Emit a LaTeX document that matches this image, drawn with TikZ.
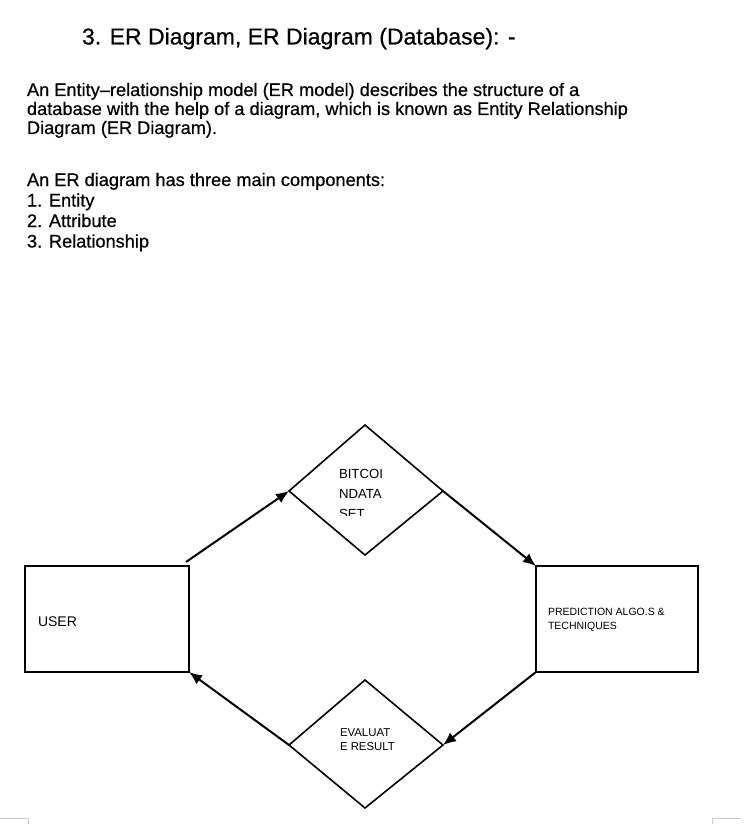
\documentclass[tikz,border=0pt]{standalone}
\usepackage{fontspec}
\setmainfont{Liberation Sans}
\newfontfamily\bodyfont[FakeBold=0.6]{Liberation Sans}
\usetikzlibrary{arrows.meta}
\begin{document}
\begin{tikzpicture}[x=1pt,y=-1pt,
  txt/.style={anchor=base west,inner sep=0pt,outer sep=0pt},
  body/.style={txt,font=\bodyfont\fontsize{18.2}{20}\selectfont},
  outline/.style={draw=black,line width=1.6pt},
  conn/.style={draw=black,line width=2pt,-{Latex[length=13pt,width=11pt]}},
  lbl/.style={txt,font=\fontsize{12}{14}\selectfont}]
\useasboundingbox (0,0) rectangle (750,824);
% text block
\node[txt,font=\bodyfont\fontsize{23}{28}\selectfont] (title) at (82,44.5) {3. ER Diagram, ER Diagram (Database): -};
\node[body] (p1) at (27,96) {An Entity–relationship model (ER model) describes the structure of a};
\node[body] (p2) at (27,115) {database with the help of a diagram, which is known as Entity Relationship};
\node[body] (p3) at (27,134) {Diagram (ER Diagram).};
\node[body] (q1) at (27,186) {An ER diagram has three main components:};
\node[body] (q2) at (27,206.5) {1. Entity};
\node[body] (q3) at (27,227) {2. Attribute};
\node[body] (q4) at (27,247.5) {3. Relationship};
% entities
\draw[outline] (25,566) rectangle (189,672);
\coordinate (uTR) at (186,562);
\coordinate (uBR) at (189,672);
\draw[outline] (536,566) rectangle (698,672);
\coordinate (pTL) at (536,566);
\coordinate (pBL) at (536,672);
\node[txt,font=\fontsize{14}{16}\selectfont] (user) at (38,626) {USER};
\node[txt,font=\fontsize{10.5}{12}\selectfont] (pred1) at (548,615) {PREDICTION ALGO.S \&};
\node[txt,font=\fontsize{10.5}{12}\selectfont] (pred2) at (548,629) {TECHNIQUES};
% top diamond
\coordinate (tT) at (365,425);
\coordinate (tL) at (289,491);
\coordinate (tR) at (443,491);
\coordinate (tB) at (365,555);
\draw[outline] (tT) -- (tR) -- (tB) -- (tL) -- cycle;
\node[txt,font=\fontsize{13.2}{15}\selectfont] (b1) at (339,478) {BITCOI};
\node[txt,font=\fontsize{13.2}{15}\selectfont] (b2) at (339,498) {NDATA};
\begin{scope}
\clip (330,500) rectangle (400,515.5);
\node[txt,font=\fontsize{13.2}{15}\selectfont] (b3) at (339,518) {SET};
\end{scope}
% bottom diamond
\coordinate (bT) at (365,680);
\coordinate (bL) at (289,745);
\coordinate (bR) at (443,745);
\coordinate (bB) at (365,808);
\draw[outline] (bT) -- (bR) -- (bB) -- (bL) -- cycle;
\node[txt,font=\fontsize{11.4}{13}\selectfont] (e1) at (340,736) {EVALUAT};
\node[txt,font=\fontsize{11.4}{13}\selectfont] (e2) at (340,750) {E RESULT};
% connectors
\draw[conn] (uTR) -- (tL);
\draw[conn] (tR) -- (pTL);
\draw[conn] (pBL) -- (bR);
\draw[conn] (bL) -- (uBR);
% faint corner marks
\draw[gray!40,line width=1pt] (0,818) -- (28,818) -- (28,824);
\draw[gray!40,line width=1pt] (712,824) -- (712,818) -- (740,818);
\end{tikzpicture}
\end{document}
